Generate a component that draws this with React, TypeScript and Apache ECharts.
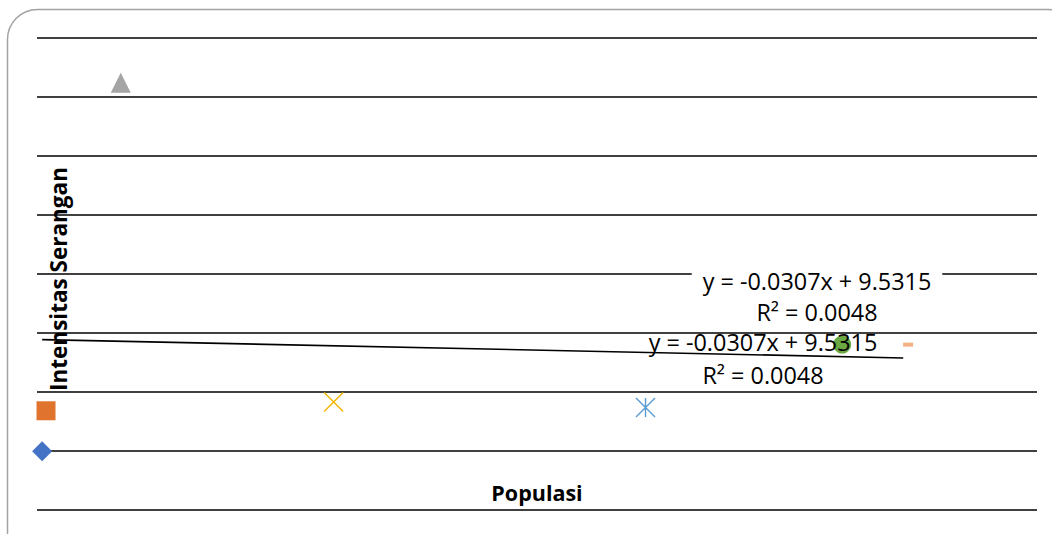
import React, { useEffect, useRef } from "react";
import * as echarts from "echarts";

// Observations: one point per population sample (x = Populasi, y = Intensitas Serangan)
const sampleNames = ["S1", "S2", "S3", "S4", "S5", "S6", "S7"];
const populasi = [0, 0.15, 3.05, 11.31, 23.41, 31.04, 33.6];
const intensitas = [3.28, 5.55, 23.9, 6.04, 5.73, 9.25, 9.25];

// Linear trend stated on the chart
const trendSlope = -0.0307;
const trendIntercept = 9.5315;
const trendR2 = 0.0048;
const trendXRange = [0, 33.41];

// Axis ranges (value axes, labels hidden)
const xRange = [-0.2, 38.6];
const yMin = 0;
const yStep = 3.3;
const yMax = 26.4;

const eqText = `y = ${trendSlope.toFixed(4)}x + ${trendIntercept.toFixed(4)}`;
const r2Text = `R² = ${trendR2.toFixed(4)}`;

const FONT = "'Open Sans', 'Liberation Sans', sans-serif";

const markerStyles = [
  { symbol: "diamond", size: 20, color: "#4472C4", stroke: false },
  { symbol: "rect", size: 19, color: "#E0742E", stroke: false },
  { symbol: "triangle", size: 20, color: "#A5A5A5", stroke: false },
  { symbol: "path://M0 0 L10 10 M10 0 L0 10", size: 19, color: "#F2B400", stroke: true },
  { symbol: "path://M0 0 L10 10 M10 0 L0 10 M5 0 L5 10", size: 19, color: "#5B9BD5", stroke: true },
  { symbol: "circle", size: 18, color: "#6AA843", stroke: false },
  { symbol: "rect", size: [10, 4], color: "#F4B183", stroke: false },
];

export default function App() {
  const ref = useRef<HTMLDivElement>(null);

  useEffect(() => {
    if (!ref.current) return;
    const chart = echarts.init(ref.current, undefined, { renderer: "svg" });

    const scatterSeries = sampleNames.map((name, i) => {
      const m = markerStyles[i];
      return {
        name,
        type: "scatter",
        z: 3,
        symbol: m.symbol,
        symbolSize: m.size,
        data: [[populasi[i], intensitas[i]]],
        itemStyle: m.stroke
          ? { color: "rgba(0,0,0,0)", borderColor: m.color, borderWidth: 1.4, opacity: 1 }
          : { color: m.color, opacity: 1 },
      };
    });

    const trendData = trendXRange.map((x) => [x, trendIntercept + trendSlope * x]);

    chart.setOption({
      animation: false,
      backgroundColor: "#ffffff",
      grid: { left: 37, right: 15, top: 38, bottom: 24 },
      xAxis: {
        type: "value",
        min: xRange[0],
        max: xRange[1],
        axisLine: { show: false },
        axisTick: { show: false },
        axisLabel: { show: false },
        splitLine: { show: false },
      },
      yAxis: {
        type: "value",
        min: yMin,
        max: yMax,
        interval: yStep,
        axisLine: { show: false },
        axisTick: { show: false },
        axisLabel: { show: false },
        splitLine: { show: true, lineStyle: { color: "#000000", width: 1.5 } },
      },
      series: [
        {
          name: "Linear",
          type: "line",
          z: 2,
          data: trendData,
          showSymbol: false,
          symbol: "none",
          lineStyle: { color: "#000000", width: 1.6 },
        },
        ...scatterSeries,
      ],
      graphic: [
        {
          type: "rect",
          z: 0,
          silent: true,
          shape: { x: 7.5, y: 9.5, width: 1070, height: 570, r: 30 },
          style: { fill: "none", stroke: "#a3a3a3", lineWidth: 1.5 },
        },
        {
          type: "text",
          z: 100,
          x: 817,
          y: 296,
          style: {
            text: `${eqText}\n${r2Text}`,
            font: `23.4px ${FONT}`,
            fill: "#000000",
            align: "center",
            verticalAlign: "middle",
            lineHeight: 31,
            backgroundColor: "#ffffff",
            padding: [0, 11, 0, 11],
          },
        },
        {
          type: "text",
          z: 100,
          x: 763,
          y: 358,
          style: {
            text: `${eqText}\n${r2Text}`,
            font: `23.4px ${FONT}`,
            fill: "#000000",
            align: "center",
            verticalAlign: "middle",
            lineHeight: 33,
          },
        },
        {
          type: "text",
          z: 100,
          x: 537,
          y: 492,
          style: {
            text: "Populasi",
            font: `bold 21.5px ${FONT}`,
            fill: "#000000",
            align: "center",
            verticalAlign: "middle",
          },
        },
        {
          type: "text",
          z: 100,
          x: 58,
          y: 279,
          rotation: Math.PI / 2,
          style: {
            text: "Intensitas Serangan",
            font: `bold 22.5px ${FONT}`,
            fill: "#000000",
            align: "center",
            verticalAlign: "middle",
          },
        },
      ],
    });

    return () => chart.dispose();
  }, []);

  return (
    <div
      ref={ref}
      style={{ position: "fixed", left: 0, top: 0, width: 1052, height: 534 }}
    />
  );
}
